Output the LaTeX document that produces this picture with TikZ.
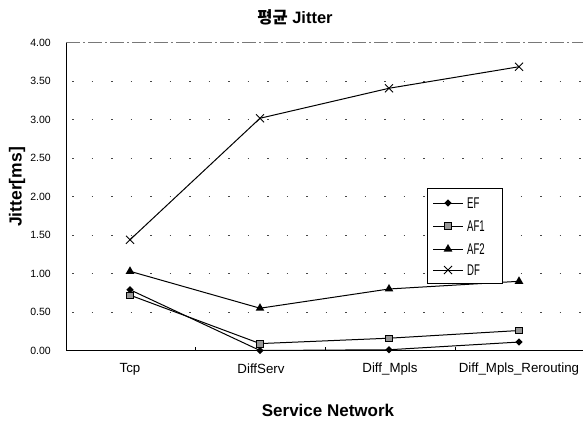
\documentclass[tikz,border=0pt]{standalone}
\usepackage{fontspec}
\setmainfont{Liberation Sans}
\newfontfamily\krfont{Noto Sans CJK KR}
\usetikzlibrary{shapes.geometric,shapes.misc,positioning,calc}

\definecolor{gridGray}{RGB}{70,70,70}
\definecolor{frameGray}{RGB}{120,120,120}
\definecolor{afOneFill}{RGB}{150,150,150}

\tikzset{
  efmark/.style={diamond,fill=black,inner sep=0pt,minimum size=7.5pt},
  afonemark/.style={rectangle,draw=black,line width=0.6pt,fill=afOneFill,inner sep=0pt,minimum size=6.5pt},
  aftwomark/.style={regular polygon,regular polygon sides=3,fill=black,inner sep=0pt,minimum size=10pt},
  dfmark/.style={cross out,draw=black,line width=1pt,inner sep=0pt,minimum size=7pt},
  series/.style={black,line width=1pt},
  gridline/.style={gridGray,line width=0.9pt,dash pattern=on 1.5pt off 18pt},
  ticklabel/.style={anchor=east,inner sep=0pt,font=\fontsize{10.5}{12}\selectfont},
  catlabel/.style={inner sep=0pt,font=\fontsize{13.3}{15}\selectfont},
  legtext/.style={anchor=west,inner sep=0pt,font=\fontsize{15.5}{17}\selectfont},
}

\begin{document}
\begin{tikzpicture}[x=1pt,y=-1pt]
    \useasboundingbox (0,0) rectangle (583,421);

    % titles
    \node[font=\fontsize{16.5}{18}\selectfont\bfseries] (title) at (295,17) {{\krfont 평균} Jitter};
    \node[font=\fontsize{17.5}{19}\selectfont\bfseries,rotate=90] (ylab) at (17,187) {Jitter[ms]};
    \node[font=\fontsize{17}{19}\selectfont\bfseries] (xlab) at (328,410) {Service Network};

    % plot area (values upward)
    \begin{scope}[shift={(0,350.5)},y=76.9pt]
        \foreach \v in {0.5,1,...,3.5}
            \draw[gridline] (72,\v) -- (583,\v);
        \draw[frameGray,line width=0.9pt,dash pattern=on 14pt off 3pt on 2pt off 3pt] (66,4) -- (583,4);
        \draw[black,line width=1pt] (66,4) -- (66,0) -- (583,0);
        \foreach \x in {195,325,455}
            \draw[black,line width=0.6pt] (\x,0) -- (\x,0.045);

        \foreach \v/\t in {0/0.00,0.5/0.50,1/1.00,1.5/1.50,2/2.00,2.5/2.50,3/3.00,3.5/3.50,4/4.00}
            \node[ticklabel] (tick-\t) at (51,\v) {\t};

        % data points
        \foreach \s/\a/\b/\c/\d in {ef/0.79/0.0/0.01/0.11, afone/0.72/0.09/0.16/0.26,
                                    aftwo/1.03/0.55/0.80/0.90, df/1.44/3.02/3.41/3.69} {
            \coordinate (\s-1) at (130,\a);
            \coordinate (\s-2) at (260,\b);
            \coordinate (\s-3) at (389,\c);
            \coordinate (\s-4) at (519,\d);
            \draw[series] (\s-1) -- (\s-2) -- (\s-3) -- (\s-4);
        }
        \foreach \s in {ef,afone,aftwo,df}
            \foreach \i in {1,...,4}
                \node[\s mark] (\s-m\i) at (\s-\i) {};
    \end{scope}

    % categories
    \node[catlabel] (cat-tcp) at (130,369) {Tcp};
    \node[catlabel] (cat-diffserv) at (261,369) {DiffServ};
    \node[catlabel] (cat-mpls) at (390,369) {Diff\_Mpls};
    \node[catlabel] (cat-rerouting) at (519,369) {Diff\_Mpls\_Rerouting};

    % legend
    \node[draw=black,line width=0.8pt,fill=white,anchor=north west,minimum width=75pt,minimum height=95pt,inner sep=0pt] (legend) at (427,188) {};
    \foreach \s/\t/\y in {ef/EF/203,afone/AF1/226,aftwo/AF2/249,df/DF/270} {
        \coordinate (\s-la) at (433,\y);
        \coordinate (\s-lb) at (463,\y);
        \draw[series] (\s-la) -- (\s-lb);
        \node[\s mark] (\s-lm) at ($(\s-la)!0.5!(\s-lb)$) {};
        \node[legtext] (\s-lt) at (467,\y) {\scalebox{0.62}[1]{\t}};
    }
\end{tikzpicture}
\end{document}
